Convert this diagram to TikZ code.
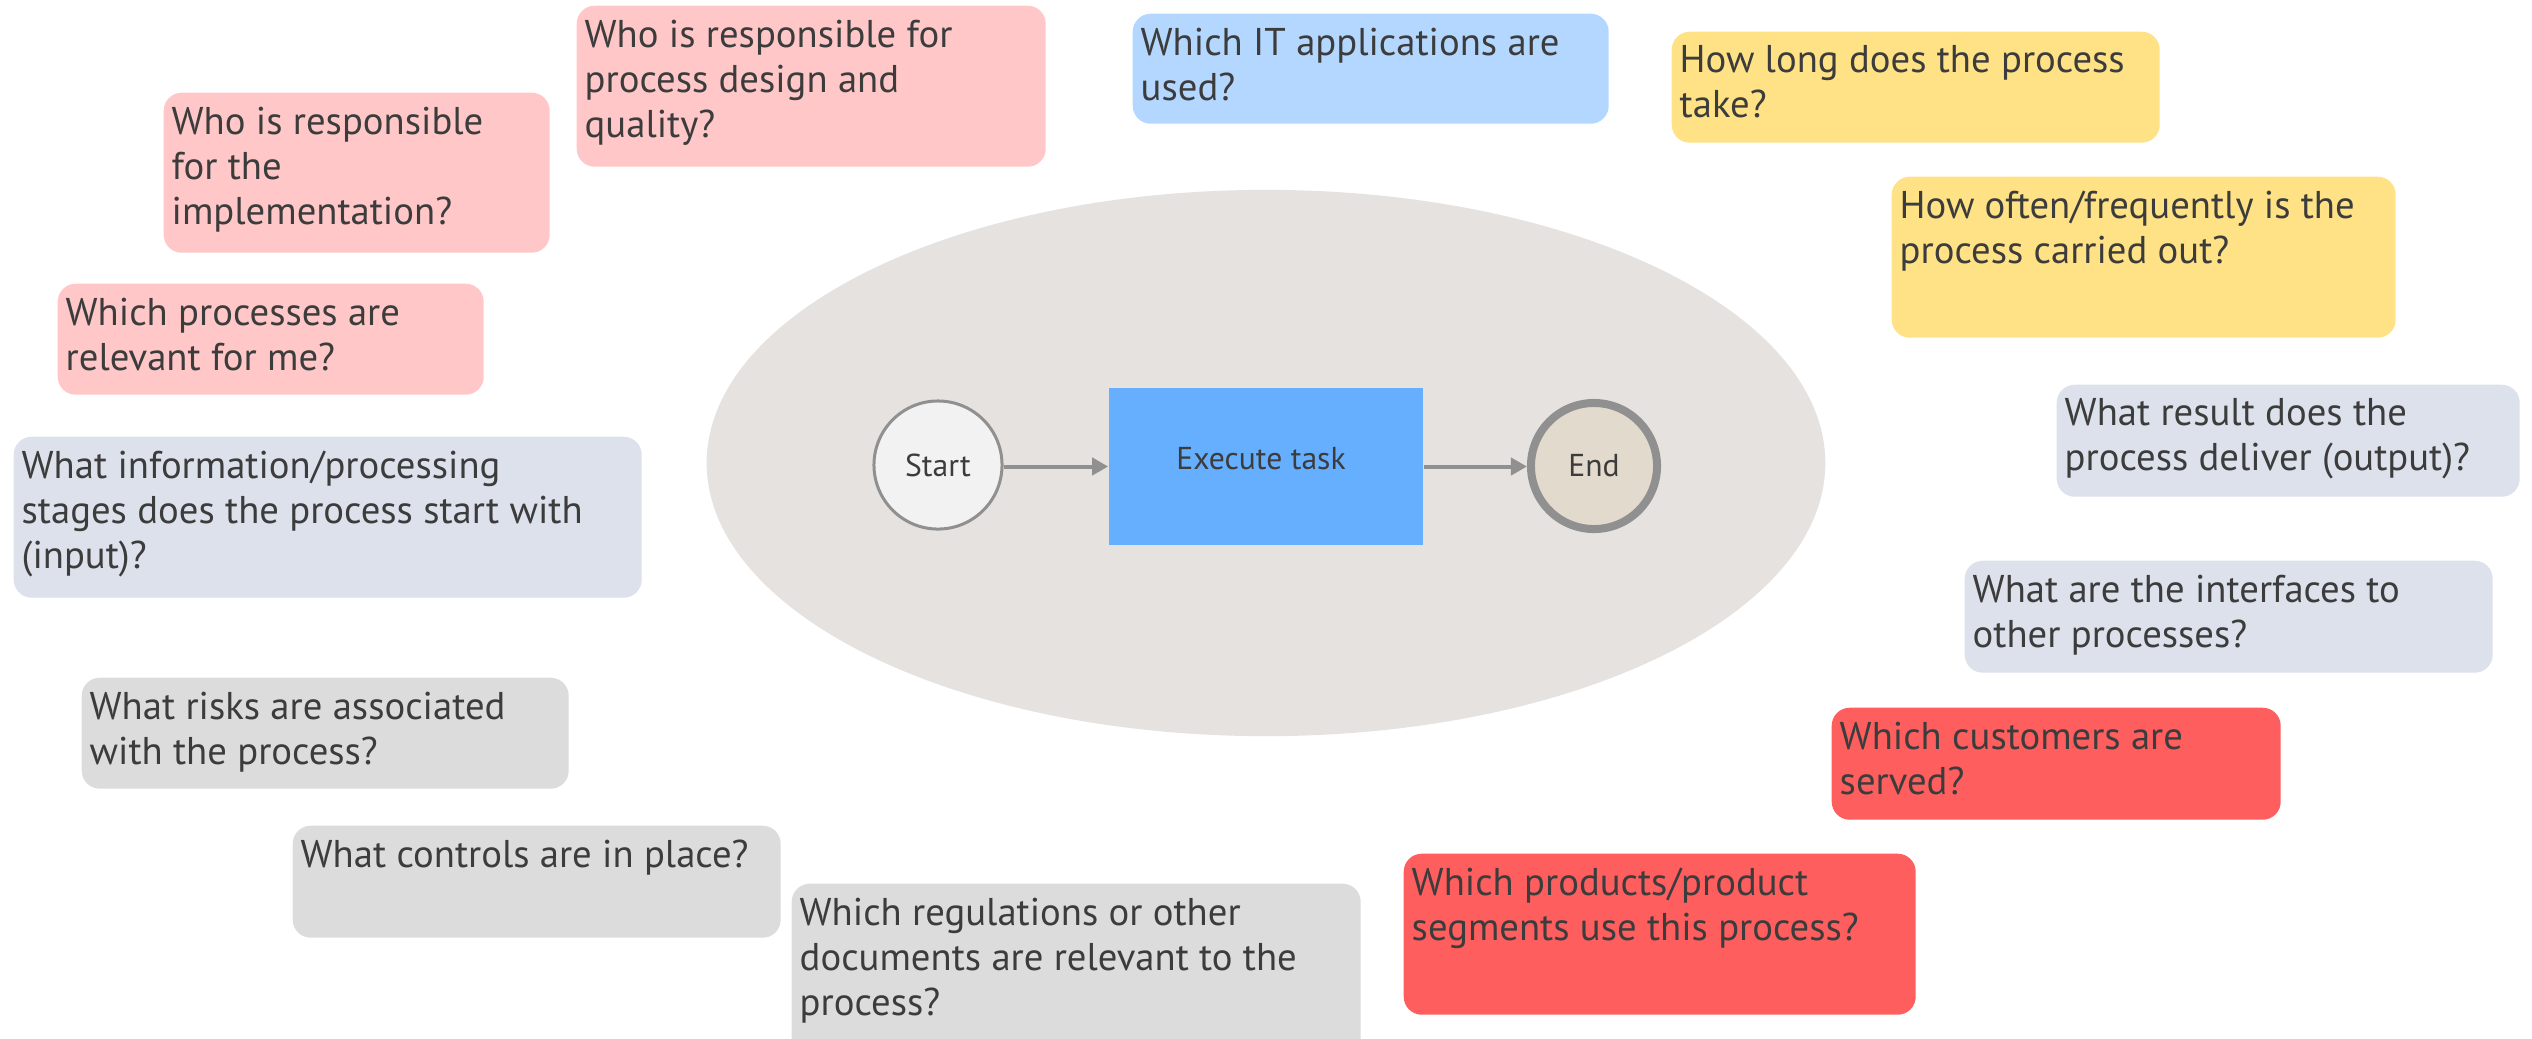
\documentclass[tikz,border=0pt]{standalone}
\usepackage{fontspec}
\setmainfont{PT Sans}
\usetikzlibrary{shapes.geometric,arrows.meta}
\definecolor{qpink}{HTML}{FFC7C7}
\definecolor{qblue}{HTML}{B3D7FF}
\definecolor{qyellow}{HTML}{FFE285}
\definecolor{qslate}{HTML}{DCE1EC}
\definecolor{qgray}{HTML}{DCDCDC}
\definecolor{qred}{HTML}{FF5E5E}
\definecolor{qlane}{HTML}{E6E2DF}
\definecolor{qtask}{HTML}{66AFFF}
\definecolor{qtxt}{HTML}{3C3C3C}
\definecolor{qline}{HTML}{909090}
\definecolor{qend}{HTML}{E2DACC}
\definecolor{qstart}{HTML}{F2F2F2}
\tikzset{
  qboxstyle/.style={rectangle, rounded corners=0.18cm, inner sep=0pt, anchor=north west},
  qtext/.style={align=left, inner sep=0pt, anchor=north west, text=qtxt, font=\fontsize{11}{12.8}\selectfont},
  flowtext/.style={text=qtxt, font=\fontsize{9}{11}\selectfont},
  conn/.style={draw=qline, line width=0.04cm, -{Triangle[length=0.16cm,width=0.17cm]}},
}
\newcommand\QBox[7]{%
  \node[qboxstyle, fill=#2, minimum width={(#5-#3)*0.01cm}, minimum height={(#6-#4)*0.01cm}] (#1) at (#3,#4) {};
  \node[qtext] (#1t) at ([xshift=0.08cm,yshift=-0.14cm]#1.north west) {#7};
}
\begin{document}
\begin{tikzpicture}[x=0.01cm,y=-0.01cm]
\useasboundingbox (0,0) rectangle (2532,1038);
\clip (0,0) rectangle (2532,1038);
% central lane
\node[ellipse, fill=qlane, minimum width=11.18cm, minimum height=5.46cm, inner sep=0pt] (lane) at (1266,463) {};
\node[circle, draw=qline, line width=0.03cm, fill=qstart, minimum size=1.28cm, inner sep=0pt, flowtext] (start) at (938,465) {Start};
\node[rectangle, fill=qtask, minimum width=3.14cm, minimum height=1.57cm, inner sep=0pt] (task) at (1266,466.5) {};
\node[flowtext, anchor=center] (taskt) at (1261,459) {Execute task};
\node[circle, draw=qline, line width=0.08cm, fill=qend, minimum size=1.26cm, inner sep=0pt, flowtext] (end) at (1594,466) {End};
\draw[conn] (start.east |- task) -- (task);
\draw[conn] (task) -- (end.west |- task);
% question boxes
\QBox{q1}{qpink}{576}{5}{1045}{166}{Who is responsible for\\process design and\\quality?}
\QBox{q2}{qpink}{163}{92}{549}{252}{Who is responsible\\for the\\implementation?}
\QBox{q3}{qpink}{57}{283}{483}{394}{Which processes are\\relevant for me?}
\QBox{q4}{qslate}{13}{436}{641}{597}{What information/processing\\stages does the process start with\\(input)?}
\QBox{q5}{qgray}{81}{677}{568}{788}{What risks are associated\\with the process?}
\QBox{q6}{qgray}{292}{825}{780}{937}{What controls are in place?}
\QBox{q7}{qgray}{791}{883}{1360}{1090}{Which regulations or other\\documents are relevant to the\\process?}
\QBox{q8}{qblue}{1132}{13}{1608}{123}{Which IT applications are\\used?}
\QBox{q9}{qyellow}{1671}{31}{2159}{142}{How long does the process\\take?}
\QBox{q10}{qyellow}{1891}{176}{2395}{337}{How often/frequently is the\\process carried out?}
\QBox{q11}{qslate}{2056}{384}{2519}{496}{What result does the\\process deliver (output)?}
\QBox{q12}{qslate}{1964}{560}{2492}{672}{What are the interfaces to\\other processes?}
\QBox{q13}{qred}{1831}{707}{2280}{819}{Which customers are\\served?}
\QBox{q14}{qred}{1403}{853}{1915}{1014}{Which products/product\\segments use this process?}
\end{tikzpicture}
\end{document}
